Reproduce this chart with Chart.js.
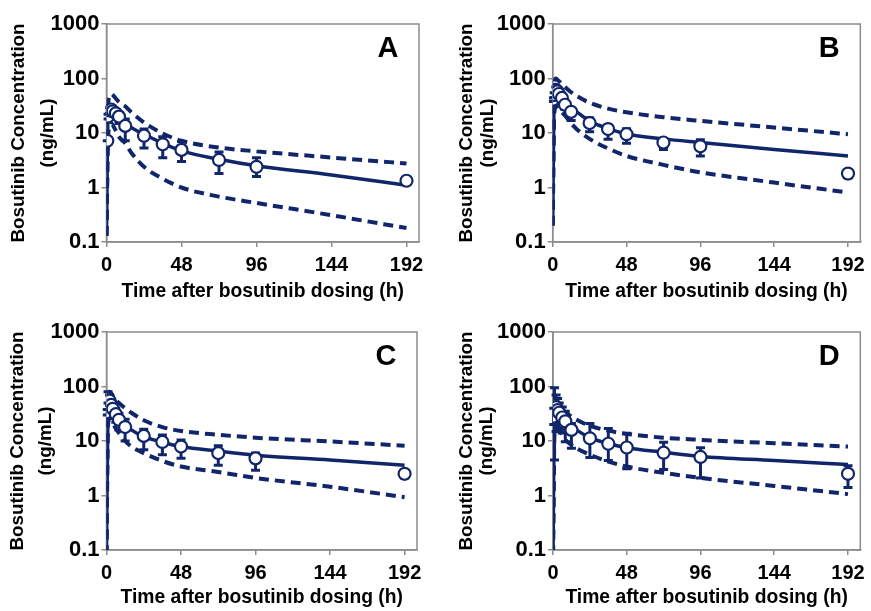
<!DOCTYPE html>
<html>
<head>
<meta charset="utf-8">
<script src="https://cdn.jsdelivr.net/npm/chart.js@4.4.1/dist/chart.umd.min.js"></script>
<style>
  body { margin: 0; background: #fff; }
  #wrap { position: relative; width: 871px; height: 611px; }
  canvas { position: absolute; }
</style>
</head>
<body>
<div id="wrap">
  <canvas id="panelA" width="436" height="305" style="left:0;top:0"></canvas>
  <canvas id="panelB" width="435" height="305" style="left:436px;top:0"></canvas>
  <canvas id="panelC" width="436" height="306" style="left:0;top:305px"></canvas>
  <canvas id="panelD" width="435" height="306" style="left:436px;top:305px"></canvas>
</div>
<script>
// axis ticks
const xTicks = [0, 48, 96, 144, 192];
const yTicks = [0.1, 1, 10, 100, 1000];

// sampling times (h) for observed means and for the simulated curves
const obsTime = [0.5, 1, 2, 3, 4, 6, 8, 12, 24, 36, 48, 72, 96, 192];
const curveTime = [0, 1, 2, 3, 4, 6, 8, 12, 16, 24, 36, 48, 72, 96, 144, 192];

// panel A
const obsA  = [7.2, 20, 26, 27, 25, 23, 20, 13.5, 8.9, 6.2, 4.9, 3.2, 2.4, 1.33];
const lowA  = [7.2, 18, 23, 24, 22, 19, 15, 7.2, 5.3, 3.5, 3.0, 1.8, 1.6, 1.2];
const highA = [7.2, 22, 29, 30, 28, 26, 24, 18, 11.8, 8.5, 7.0, 4.5, 3.5, 1.45];
const medA  = [0.13, 22, 28, 29, 28, 24, 20, 15, 12.5, 9.5, 6.5, 4.7, 3.3, 2.5, 1.7, 1.1];
const p5A   = [0.13, 8, 13, 15, 14, 11, 8.5, 6.5, 4.3, 2.4, 1.45, 1.0, 0.68, 0.52, 0.31, 0.18];
const p95A  = [0.13, 30, 48, 52, 50, 43, 37, 31, 24, 15.6, 9.8, 7.2, 5.4, 4.6, 3.55, 2.76];

// panel B
const obsB  = [41, 50, 62, 58, 52, 44, 33, 24.5, 15.2, 11.8, 9.5, 6.7, 5.7, 1.8];
const lowB  = [38, 45, 55, 52, 47, 38, 27, 17, 10.5, 7.7, 6.5, 5, 3.8, 1.5];
const highB = [44, 55, 70, 65, 58, 50, 38, 28, 19, 14, 12, 7.5, 7.5, 2.1];
const medB  = [0.2, 45, 60, 62, 58, 48, 40, 30, 24, 16.5, 12, 9.6, 7.8, 6.7, 5, 3.8];
const p5B   = [0.2, 22, 30, 30, 28, 24, 21, 15, 11.5, 7.8, 5.2, 3.8, 2.6, 1.9, 1.23, 0.81];
const p95B  = [0.2, 75, 100, 95, 90, 80, 70, 56, 47, 36, 28, 24, 19.5, 16.7, 12.6, 9.5];

// panel C
const obsC  = [34, 60, 55, 46, 39, 31, 24.5, 18, 12.4, 9.6, 7.9, 6, 4.8, 2.5];
const lowC  = [30, 50, 45, 38, 31, 22, 16, 10, 6.9, 5.6, 4.8, 3.6, 2.9, 2.1];
const highC = [38, 80, 70, 56, 48, 40, 32, 25, 16.4, 12.9, 10.4, 8.2, 6, 2.9];
const medC  = [0.08, 50, 58, 52, 46, 35, 28, 20, 16, 12, 9.5, 7.9, 6.5, 5.5, 4.5, 3.6];
const p5C   = [0.08, 20, 25, 23, 21, 17, 14, 10, 7.9, 6, 4.3, 3.4, 2.7, 2.1, 1.45, 0.93];
const p95C  = [0.08, 70, 80, 75, 68, 57, 50, 40, 33, 24, 18, 15.3, 13, 11.5, 9.8, 8.2];

// panel D
const obsD  = [28, 45, 42, 37, 33, 27, 23, 16, 11.2, 8.9, 7.6, 6.1, 5.1, 2.5];
const lowD  = [20, 4.5, 15, 17, 16, 14, 9.7, 7.4, 5.0, 4.4, 3.1, 3.0, 2.1, 1.4];
const highD = [40, 95, 70, 60, 50, 42, 35, 21, 21, 17, 13.9, 9.5, 7.5, 3.5];
const medD  = [0.08, 40, 45, 42, 38, 31, 26, 19, 15.5, 11.5, 9, 7.5, 6.2, 5.2, 4.4, 3.7];
const p5D   = [0.08, 14, 18, 17, 16, 13, 10.5, 8.5, 7.2, 5.6, 4.2, 3.4, 2.6, 2.1, 1.5, 1.06];
const p95D  = [0.08, 40, 46, 44, 42, 38, 34, 28, 24, 19, 15.5, 13.5, 11.5, 10.5, 9.1, 7.9];

const navy = '#11266a';
const frameGray = '#8c8c8c';
const fontFamily = '"Liberation Sans", Arial, sans-serif';

function toPoints(times, values) {
  return times.map((t, i) => ({ x: t, y: values[i] }));
}

// error bars under the observed markers
const errorBarPlugin = {
  id: 'errorBars',
  beforeDatasetDraw(chart, args) {
    if (args.index !== 0) return;
    const { low, high } = chart.options.plugins.errorBars;
    const xs = chart.scales.x, ys = chart.scales.y;
    const ctx = chart.ctx;
    ctx.save();
    ctx.strokeStyle = navy;
    ctx.lineWidth = 3;
    obsTime.forEach((t, i) => {
      const px = xs.getPixelForValue(t);
      const yLo = ys.getPixelForValue(low[i]);
      const yHi = ys.getPixelForValue(high[i]);
      ctx.beginPath();
      ctx.moveTo(px, yLo); ctx.lineTo(px, yHi);
      ctx.moveTo(px - 4.5, yLo); ctx.lineTo(px + 4.5, yLo);
      ctx.moveTo(px - 4.5, yHi); ctx.lineTo(px + 4.5, yHi);
      ctx.stroke();
    });
    ctx.restore();
  }
};

// plot-area frame and panel letter
const framePlugin = {
  id: 'frame',
  beforeDatasetsDraw(chart) {
    const a = chart.chartArea, ctx = chart.ctx;
    ctx.save();
    ctx.strokeStyle = frameGray;
    ctx.lineWidth = 1.5;
    ctx.strokeRect(a.left, a.top, a.right - a.left, a.bottom - a.top);
    ctx.restore();
  },
  afterDraw(chart) {
    const a = chart.chartArea, ctx = chart.ctx;
    ctx.save();
    ctx.fillStyle = '#000';
    ctx.font = 'bold 29px ' + fontFamily;
    ctx.textAlign = 'center';
    ctx.textBaseline = 'middle';
    ctx.fillText(chart.options.plugins.frame.letter, a.right - 31, a.top + 25);
    ctx.restore();
  }
};

function makePanel(id, letter, obs, low, high, med, p5, p95, lay) {
  const lineBase = {
    type: 'line', pointRadius: 0, borderColor: navy,
    cubicInterpolationMode: 'monotone', fill: false
  };
  new Chart(document.getElementById(id), {
    type: 'line',
    data: {
      datasets: [
        {
          type: 'scatter', data: toPoints(obsTime, obs),
          pointStyle: 'circle', pointRadius: 6, pointBorderWidth: 2.2,
          pointBackgroundColor: '#fff', pointBorderColor: navy
        },
        Object.assign({ data: toPoints(curveTime, med), borderWidth: 3.5 }, lineBase),
        Object.assign({ data: toPoints(curveTime, p5), borderWidth: 4, borderDash: [10, 6] }, lineBase),
        Object.assign({ data: toPoints(curveTime, p95), borderWidth: 4, borderDash: [10, 6] }, lineBase)
      ]
    },
    options: {
      responsive: false,
      animation: false,
      layout: { padding: { top: lay.top, right: lay.right, left: 0, bottom: 0 } },
      plugins: {
        legend: { display: false },
        tooltip: { enabled: false },
        errorBars: { low: low, high: high },
        frame: { letter: letter }
      },
      scales: {
        x: {
          type: 'linear', min: 0, max: 200,
          afterBuildTicks: s => { s.ticks = xTicks.map(v => ({ value: v })); },
          afterFit: s => { s.height = lay.xHeight; },
          grid: { drawOnChartArea: false, color: frameGray, lineWidth: 1.5, tickLength: 5 },
          border: { color: frameGray, width: 1.5 },
          ticks: { color: '#000', padding: 6, maxRotation: 0, font: { family: fontFamily, size: 20, weight: 'bold' } },
          title: {
            display: true, text: 'Time after bosutinib dosing (h)', color: '#000',
            padding: { top: 0, bottom: lay.xTitlePad },
            font: { family: fontFamily, size: 19.3, weight: 'bold' }
          }
        },
        y: {
          type: 'logarithmic', min: 0.1, max: 1000,
          afterBuildTicks: s => { s.ticks = yTicks.map(v => ({ value: v })); },
          afterFit: s => { s.width = lay.yWidth; },
          grid: { drawOnChartArea: false, color: frameGray, lineWidth: 1.5, tickLength: 5 },
          border: { color: frameGray, width: 1.5 },
          ticks: {
            color: '#000', padding: 2,
            callback: v => String(v),
            font: { family: fontFamily, size: 22, weight: 'bold' }
          },
          title: {
            display: true, text: ['Bosutinib Concentration', '(ng/mL)'], color: '#000',
            padding: { top: lay.yTitlePad, bottom: 0 },
            font: { family: fontFamily, size: 18.8, weight: 'bold', lineHeight: lay.yTitleLH + 'px' }
          }
        }
      }
    },
    plugins: [errorBarPlugin, framePlugin]
  });
}

makePanel('panelA', 'A', obsA, lowA, highA, medA, p5A, p95A,
  { top: 24, right: 17, yWidth: 106.5, xHeight: 63, xTitlePad: 2, yTitlePad: 4, yTitleLH: 29 });
makePanel('panelB', 'B', obsB, lowB, highB, medB, p5B, p95B,
  { top: 24, right: 6, yWidth: 116.7, xHeight: 63, xTitlePad: 2, yTitlePad: 20, yTitleLH: 21 });
makePanel('panelC', 'C', obsC, lowC, highC, medC, p5C, p95C,
  { top: 27, right: 19, yWidth: 106.5, xHeight: 61, xTitlePad: 2, yTitlePad: 4.5, yTitleLH: 27.5 });
makePanel('panelD', 'D', obsD, lowD, highD, medD, p5D, p95D,
  { top: 27, right: 6, yWidth: 117, xHeight: 61, xTitlePad: 2, yTitlePad: 20.5, yTitleLH: 20 });
</script>
</body>
</html>
